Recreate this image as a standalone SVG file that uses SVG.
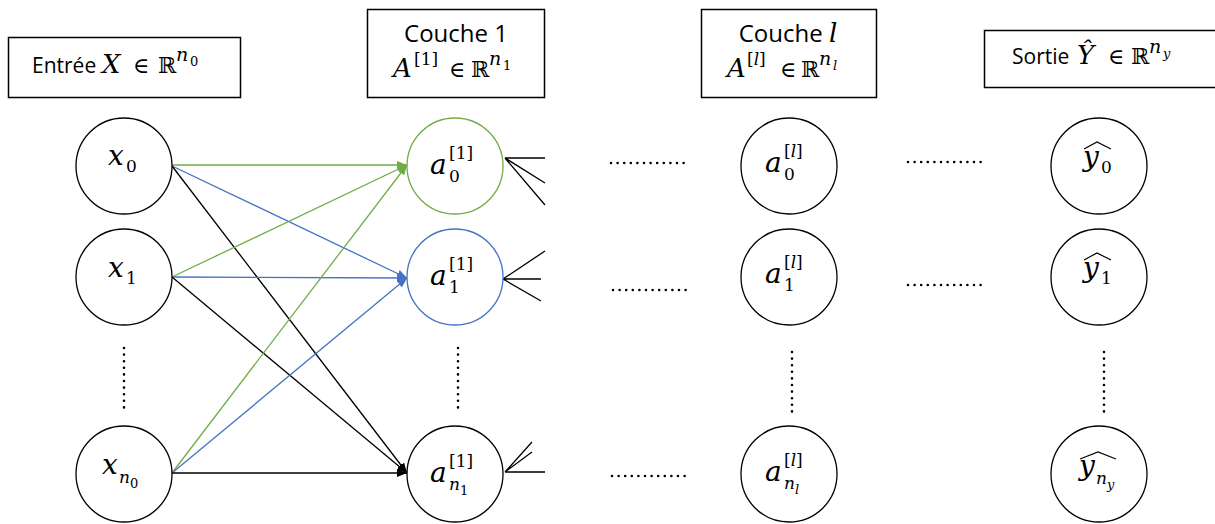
<svg xmlns="http://www.w3.org/2000/svg" width="1215" height="524" viewBox="0 0 1215 524">
<style>
.box{fill:#fff;stroke:#000;stroke-width:1.5}
.n{fill:#fff;stroke:#000;stroke-width:1.3}
.t{font-family:"Open Sans","Liberation Sans",sans-serif;fill:#000}
.m{font-family:"DejaVu Serif","Liberation Serif","DejaVu Sans",serif;fill:#000}
.i{font-style:italic}
.big{font-size:28px}
.sc{font-size:17px}
.ss{font-size:13px}
.e{stroke-width:1.3;fill:none}
.dots{stroke:#000;stroke-width:2.6;stroke-linecap:round;stroke-dasharray:0 6.6;fill:none}
.hat{fill:none;stroke:#000;stroke-width:1.2}
</style>
<defs>
<marker id="ag" markerUnits="userSpaceOnUse" markerWidth="10" markerHeight="8" refX="10" refY="4" orient="auto"><path d="M0,0 L10,4 L0,8 z" fill="#70AD47"/></marker>
<marker id="ab" markerUnits="userSpaceOnUse" markerWidth="10" markerHeight="8" refX="10" refY="4" orient="auto"><path d="M0,0 L10,4 L0,8 z" fill="#4472C4"/></marker>
<marker id="ak" markerUnits="userSpaceOnUse" markerWidth="10" markerHeight="8" refX="10" refY="4" orient="auto"><path d="M0,0 L10,4 L0,8 z" fill="#000"/></marker>
</defs>
<rect width="1215" height="524" fill="#fff"/>

<!-- title boxes -->
<g id="title-input">
<rect class="box" x="8.5" y="37.5" width="232" height="60"/>
<text class="t" x="32" y="73" font-size="21">Entrée</text>
<text class="m i" x="102" y="73" font-size="26">X</text>
<text class="m" x="133" y="73" font-size="22">∈</text>
<text class="m" x="158" y="73" font-size="22">ℝ</text>
<text class="m i" x="176" y="61" font-size="19">n</text>
<text class="m" x="190" y="66" font-size="13">0</text>
</g>
<g id="title-layer1">
<rect class="box" x="367.5" y="9.5" width="177" height="88"/>
<text class="t" x="456" y="42" font-size="24" text-anchor="middle">Couche 1</text>
<text class="m i" x="393" y="77" font-size="26">A</text>
<text class="m" x="414" y="65" font-size="17">[1]</text>
<text class="m" x="449" y="77" font-size="22">∈</text>
<text class="m" x="471" y="77" font-size="22">ℝ</text>
<text class="m i" x="489" y="65" font-size="19">n</text>
<text class="m" x="503" y="70" font-size="13">1</text>
</g>
<g id="title-layerl">
<rect class="box" x="701.5" y="9.5" width="175" height="88"/>
<text class="t" x="788" y="42" font-size="24" text-anchor="middle">Couche <tspan class="m i" font-size="26">l</tspan></text>
<text class="m i" x="727" y="77" font-size="26">A</text>
<text class="m" x="747" y="65" font-size="17">[<tspan class="i">l</tspan>]</text>
<text class="m" x="780" y="77" font-size="22">∈</text>
<text class="m" x="801" y="77" font-size="22">ℝ</text>
<text class="m i" x="819" y="65" font-size="19">n</text>
<text class="m i" x="833" y="70" font-size="13">l</text>
</g>
<g id="title-output">
<rect class="box" x="984.5" y="30.5" width="240" height="57"/>
<text class="t" x="1012" y="64" font-size="21">Sortie</text>
<text class="m i" x="1077" y="64" font-size="26">Ŷ</text>
<text class="m" x="1108" y="64" font-size="22">∈</text>
<text class="m" x="1131" y="64" font-size="22">ℝ</text>
<text class="m i" x="1149" y="53" font-size="19">n</text>
<text class="m i" x="1163" y="58" font-size="13">y</text>
</g>

<!-- connectors -->
<g id="connectors">
<line class="e" stroke="#70AD47" x1="172" y1="165" x2="407" y2="165" marker-end="url(#ag)"/>
<line class="e" stroke="#4472C4" x1="172" y1="166" x2="407" y2="278" marker-end="url(#ab)"/>
<line class="e" stroke="#000" x1="172" y1="166" x2="407" y2="473" marker-end="url(#ak)"/>
<line class="e" stroke="#70AD47" x1="172" y1="277" x2="407" y2="165" marker-end="url(#ag)"/>
<line class="e" stroke="#4472C4" x1="172" y1="277" x2="407" y2="278" marker-end="url(#ab)"/>
<line class="e" stroke="#000" x1="172" y1="277" x2="407" y2="473" marker-end="url(#ak)"/>
<line class="e" stroke="#70AD47" x1="172" y1="473" x2="407" y2="165" marker-end="url(#ag)"/>
<line class="e" stroke="#4472C4" x1="172" y1="473" x2="407" y2="278" marker-end="url(#ab)"/>
<line class="e" stroke="#000" x1="172" y1="473" x2="407" y2="473" marker-end="url(#ak)"/>
<path class="e" stroke="#000" d="M505,158 L545,158 M505,158 L545,183 M505,158 L545,205"/>
<path class="e" stroke="#000" d="M503,279 L545,251 M503,279 L541,279 M503,279 L541,301"/>
<path class="e" stroke="#000" d="M505,472 L532,442 M505,472 L532,452 M505,472 L545,472"/>
</g>

<!-- dotted continuations -->
<g id="ellipses">
<line class="dots" x1="124" y1="348" x2="124" y2="408"/>
<line class="dots" x1="458" y1="348" x2="458" y2="408"/>
<line class="dots" x1="792" y1="352" x2="792" y2="412"/>
<line class="dots" x1="1104" y1="352" x2="1104" y2="412"/>
<line class="dots" x1="611" y1="163" x2="684" y2="163"/>
<line class="dots" x1="908" y1="162" x2="982" y2="162"/>
<line class="dots" x1="613" y1="290" x2="687" y2="290"/>
<line class="dots" x1="908" y1="285" x2="981" y2="285"/>
<line class="dots" x1="612" y1="476" x2="686" y2="476"/>
</g>

<!-- input layer -->
<g id="x0"><circle class="n" cx="124" cy="166" r="48"/>
<text class="m i big" x="108" y="165">x</text><text class="m sc" x="126" y="172">0</text></g>
<g id="x1"><circle class="n" cx="124" cy="277" r="48"/>
<text class="m i big" x="108" y="277">x</text><text class="m sc" x="126" y="284">1</text></g>
<g id="xn0"><circle class="n" cx="124" cy="474" r="48"/>
<text class="m i big" x="102" y="474">x</text><text class="m i sc" x="119" y="483">n</text><text class="m ss" x="130" y="488">0</text></g>

<!-- layer 1 -->
<g id="a1_0"><circle class="n" cx="455" cy="166" r="48" style="stroke:#70AD47"/>
<text class="m i big" x="430" y="174">a</text><text class="m sc" x="449" y="159">[1]</text><text class="m sc" x="449" y="182">0</text></g>
<g id="a1_1"><circle class="n" cx="455" cy="277" r="48" style="stroke:#4472C4"/>
<text class="m i big" x="430" y="285">a</text><text class="m sc" x="449" y="270">[1]</text><text class="m sc" x="449" y="293">1</text></g>
<g id="a1_n"><circle class="n" cx="455" cy="474" r="48"/>
<text class="m i big" x="430" y="482">a</text><text class="m sc" x="449" y="467">[1]</text><text class="m i sc" x="449" y="490">n</text><text class="m ss" x="460" y="495">1</text></g>

<!-- layer l -->
<g id="al_0"><circle class="n" cx="789" cy="166" r="48"/>
<text class="m i big" x="765" y="172">a</text><text class="m sc" x="784" y="157">[<tspan class="i">l</tspan>]</text><text class="m sc" x="784" y="180">0</text></g>
<g id="al_1"><circle class="n" cx="789" cy="277" r="48"/>
<text class="m i big" x="765" y="283">a</text><text class="m sc" x="784" y="268">[<tspan class="i">l</tspan>]</text><text class="m sc" x="784" y="291">1</text></g>
<g id="al_n"><circle class="n" cx="789" cy="474" r="48"/>
<text class="m i big" x="765" y="481">a</text><text class="m sc" x="784" y="466">[<tspan class="i">l</tspan>]</text><text class="m i sc" x="784" y="489">n</text><text class="m i ss" x="795" y="494">l</text></g>

<!-- output layer -->
<g id="y0"><circle class="n" cx="1099" cy="166" r="48"/>
<text class="m i big" x="1083" y="166">y</text><text class="m sc" x="1101" y="173">0</text>
<path class="hat" d="M1084,149 L1097,142 L1111,149"/></g>
<g id="y1"><circle class="n" cx="1099" cy="277" r="48"/>
<text class="m i big" x="1083" y="277">y</text><text class="m sc" x="1101" y="284">1</text>
<path class="hat" d="M1084,260 L1097,253 L1111,260"/></g>
<g id="yn"><circle class="n" cx="1099" cy="474" r="48"/>
<text class="m i big" x="1079" y="475">y</text><text class="m i sc" x="1096" y="484">n</text><text class="m i ss" x="1107" y="489">y</text>
<path class="hat" d="M1080,459 L1098,452 L1116,459"/></g>
</svg>
